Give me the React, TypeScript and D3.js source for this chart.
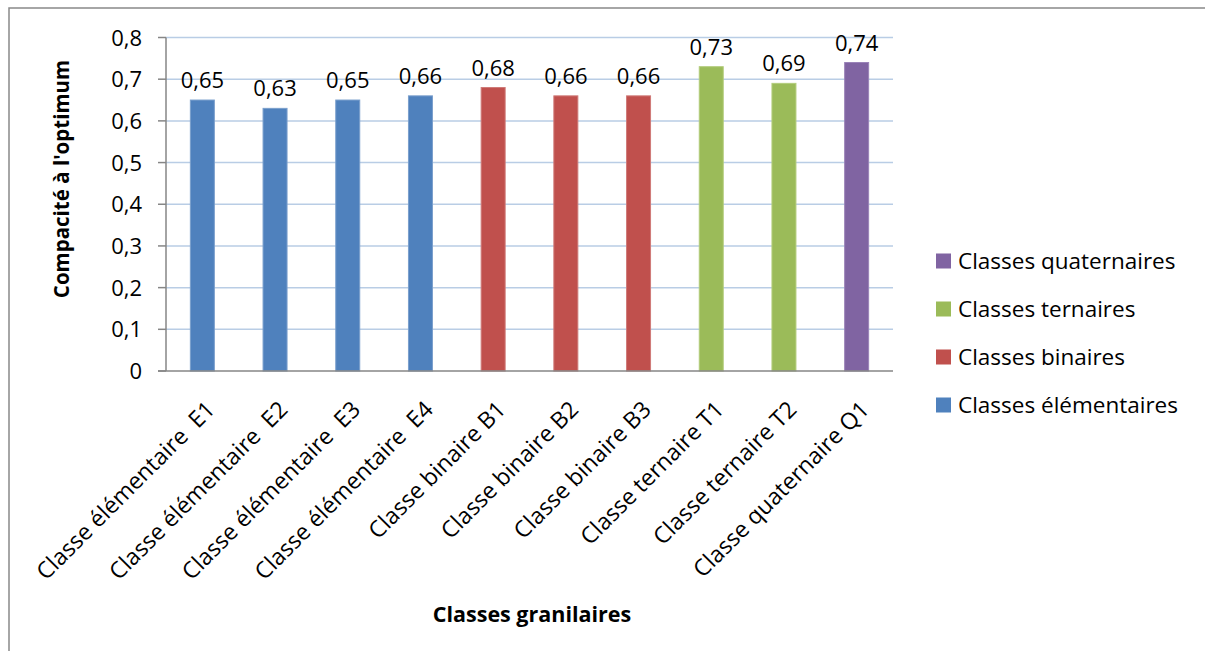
import React from "react";
import * as d3 from "d3";

const categories = [
  "Classe élémentaire  E1",
  "Classe élémentaire  E2",
  "Classe élémentaire  E3",
  "Classe élémentaire  E4",
  "Classe binaire B1",
  "Classe binaire B2",
  "Classe binaire B3",
  "Classe ternaire T1",
  "Classe ternaire T2",
  "Classe quaternaire Q1",
];
const values = [0.65, 0.63, 0.65, 0.66, 0.68, 0.66, 0.66, 0.73, 0.69, 0.74];
const groupOf = ["elem", "elem", "elem", "elem", "bin", "bin", "bin", "ter", "ter", "quat"];
const groupKeys = ["quat", "ter", "bin", "elem"];
const groupLabels = ["Classes quaternaires", "Classes ternaires", "Classes binaires", "Classes élémentaires"];
const groupColors = ["#8064A2", "#9BBB59", "#C0504D", "#4F81BD"];
const groupStrokes = ["#9a83b8", "#b3cc7c", "#cf7a78", "#7a9fcc"];
const yTicks = [0, 0.1, 0.2, 0.3, 0.4, 0.5, 0.6, 0.7, 0.8];

const W = 1205;
const H = 651;
const FONT = "'Open Sans', sans-serif";

export default function App() {
  const left = 166, right = 893, top = 37.5, bottom = 371;
  const x = d3.scaleBand<string>().domain(categories).range([left, right]).paddingInner(0.67).paddingOuter(0.335);
  const y = d3.scaleLinear().domain([0, 0.8]).range([bottom, top]);
  const color = d3.scaleOrdinal<string, string>().domain(groupKeys).range(groupColors);
  const stroke = d3.scaleOrdinal<string, string>().domain(groupKeys).range(groupStrokes);
  const fmt = (v: number) => (v === 0 ? "0" : d3.format(".1f")(v).replace(".", ","));
  const fmt2 = (v: number) => d3.format(".2f")(v).replace(".", ",");
  const step = (right - left) / categories.length;

  return (
    <svg width={W} height={H} style={{ position: "absolute", left: 0, top: 0, background: "#fff" }}>
      <rect x={0} y={0} width={W} height={H} fill="#fff" />
      <rect x={9} y={8} width={W + 20} height={H + 20} fill="none" stroke="#898989" strokeWidth={1.5} />
      {yTicks.filter((t) => t > 0).map((t) => (
        <line key={t} x1={left} x2={right} y1={y(t)} y2={y(t)} stroke="#b9cde5" strokeWidth={1.5} />
      ))}
      {categories.map((c, i) => (
        <rect
          key={c}
          x={x(c)!}
          y={y(values[i])}
          width={x.bandwidth()}
          height={bottom - y(values[i])}
          fill={color(groupOf[i])}
          stroke={stroke(groupOf[i])}
          strokeWidth={1}
        />
      ))}
      <line x1={left} x2={left} y1={top} y2={bottom} stroke="#868686" strokeWidth={1.5} />
      {yTicks.map((t) => (
        <g key={"t" + t}>
          <line x1={left - 8} x2={left} y1={y(t)} y2={y(t)} stroke="#868686" strokeWidth={1.5} />
          <text x={142} y={y(t) + 8} textAnchor="end" fontFamily={FONT} fontSize={22} fill="#000">
            {fmt(t)}
          </text>
        </g>
      ))}
      <line x1={left - 8} x2={right} y1={bottom} y2={bottom} stroke="#868686" strokeWidth={1.5} />
      {categories.map((c, i) => (
        <text
          key={"l" + c}
          x={x(c)! + x.bandwidth() / 2}
          y={y(values[i]) - 12}
          textAnchor="middle"
          fontFamily={FONT}
          fontSize={22}
          fill="#000"
        >
          {fmt2(values[i])}
        </text>
      ))}
      {categories.map((c, i) => {
        const cx = left + step * (i + 0.5) + 14;
        const cy = bottom + 40;
        return (
          <text
            key={"c" + c}
            transform={`translate(${cx},${cy}) rotate(-45)`}
            textAnchor="end"
            fontFamily={FONT}
            fontSize={23}
            fill="#000"
            style={{ whiteSpace: "pre" }}
          >
            {c}
          </text>
        );
      })}
      <text
        transform={`translate(69,179) rotate(-90)`}
        textAnchor="middle"
        fontFamily={FONT}
        fontWeight="bold"
        fontSize={20.5}
        fill="#000"
      >
        Compacité à l'optimum
      </text>
      <text x={532} y={622} textAnchor="middle" fontFamily={FONT} fontWeight="bold" fontSize={21.5} fill="#000">
        Classes granilaires
      </text>
      {groupLabels.map((g, i) => {
        const cy = 261 + i * 48;
        return (
          <g key={g}>
            <rect x={936} y={cy - 7.5} width={15} height={15} fill={groupColors[i]} />
            <text x={958} y={cy + 8} fontFamily={FONT} fontSize={22.5} fill="#000">
              {g}
            </text>
          </g>
        );
      })}
    </svg>
  );
}
